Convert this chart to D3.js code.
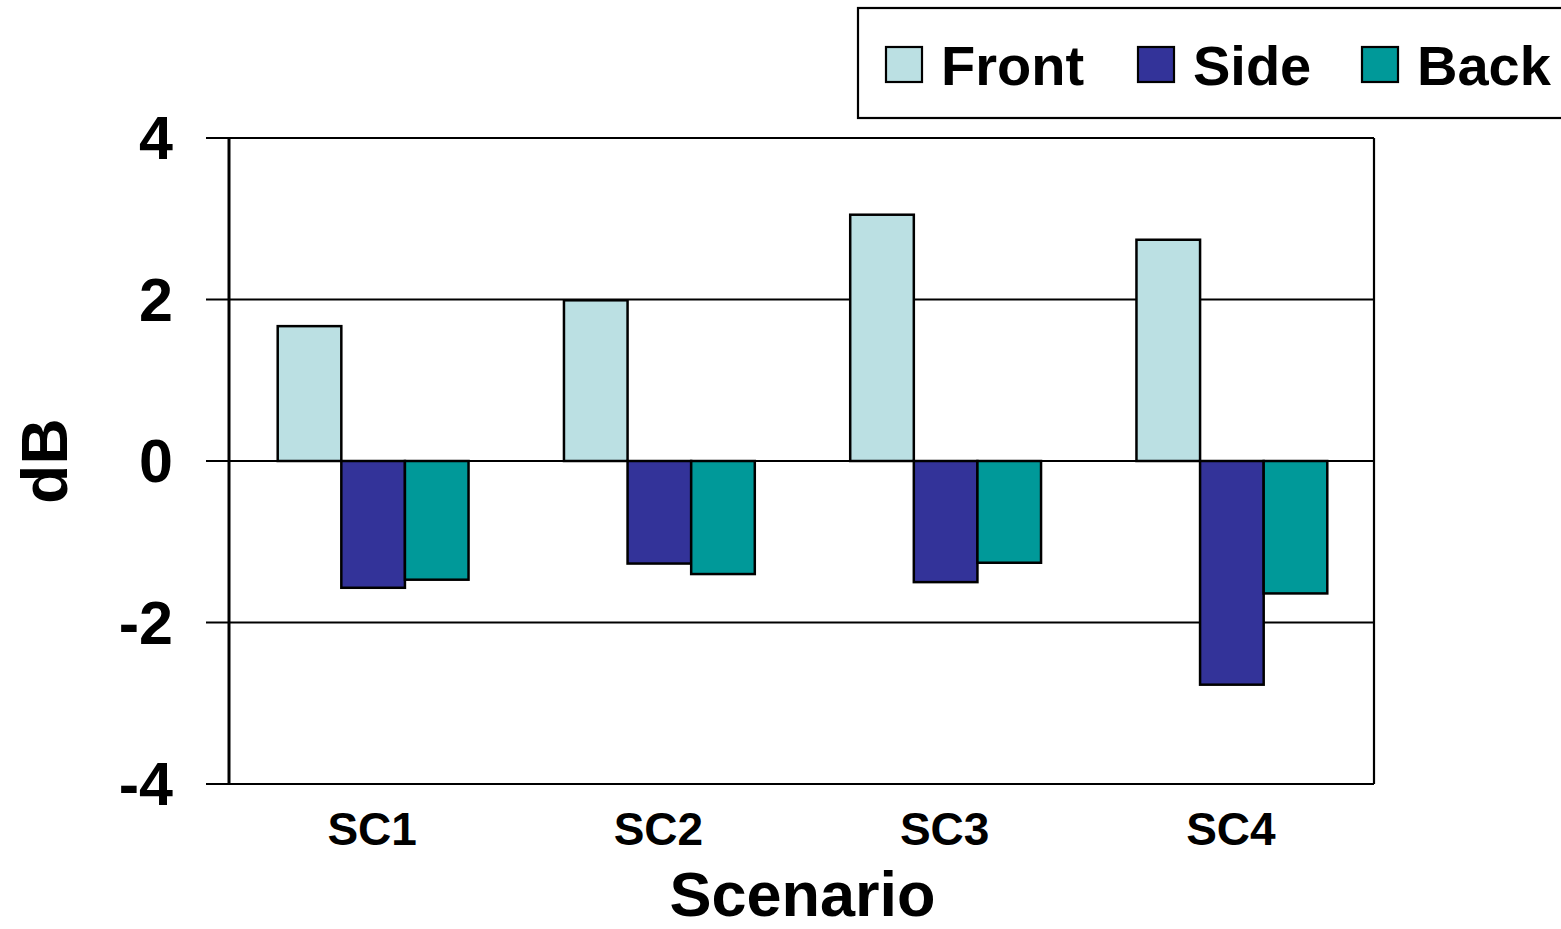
<!DOCTYPE html>
<html>
<head>
<meta charset="utf-8">
<script src="https://cdn.jsdelivr.net/npm/d3@7"></script>
<style>
  html, body { margin: 0; padding: 0; background: #fff; }
  svg { display: block; font-family: "Liberation Sans", Arial, sans-serif; font-weight: bold; }
</style>
</head>
<body>
<svg id="chart" width="1561" height="929"></svg>
<script>
// Level change per scenario, in dB
const scenarios = ["SC1", "SC2", "SC3", "SC4"];
const seriesNames = ["Front", "Side", "Back"];
const frontValues = [1.67, 1.99, 3.05, 2.74];
const sideValues = [-1.57, -1.27, -1.50, -2.77];
const backValues = [-1.47, -1.40, -1.26, -1.64];
const yTicks = [-4, -2, 0, 2, 4];
const colors = ["#BBE0E3", "#333399", "#009999"];

const seriesValues = [frontValues, sideValues, backValues];

const svg = d3.select("#chart");
const plot = { left: 229, right: 1374, top: 138, bottom: 784 };

const x = d3.scaleBand().domain(scenarios).range([plot.left, plot.right]).paddingInner(0).paddingOuter(0);
const barW = x.bandwidth() / 4.5;
const xs = d3.scaleBand().domain(seriesNames).range([0, barW * 3]);
const y = d3.scaleLinear().domain([-4, 4]).range([plot.bottom, plot.top]);

// Horizontal gridlines, extended left past the axis as tick marks
svg.append("g").selectAll("line").data(yTicks).join("line")
  .attr("x1", plot.left - 23).attr("x2", plot.right)
  .attr("y1", d => y(d)).attr("y2", d => y(d))
  .attr("stroke", "#000").attr("stroke-width", 2.2);

// Right border
svg.append("line")
  .attr("x1", plot.right).attr("x2", plot.right)
  .attr("y1", plot.top).attr("y2", plot.bottom)
  .attr("stroke", "#000").attr("stroke-width", 2.2);

// Bars
const groups = svg.append("g").selectAll("g").data(scenarios).join("g")
  .attr("transform", d => `translate(${x(d) + (x.bandwidth() - barW * 3) / 2 + 1},0)`);

groups.selectAll("rect")
  .data((d, i) => seriesNames.map((s, j) => ({ s, j, v: seriesValues[j][i] })))
  .join("rect")
  .attr("x", d => xs(d.s))
  .attr("width", xs.bandwidth())
  .attr("y", d => y(Math.max(0, d.v)))
  .attr("height", d => Math.abs(y(d.v) - y(0)))
  .attr("fill", d => colors[d.j])
  .attr("stroke", "#000").attr("stroke-width", 2.5);

// Zero line drawn over the bars
svg.append("line")
  .attr("x1", plot.left).attr("x2", plot.right)
  .attr("y1", y(0)).attr("y2", y(0))
  .attr("stroke", "#000").attr("stroke-width", 2.2);

// Left axis line
svg.append("line")
  .attr("x1", plot.left).attr("x2", plot.left)
  .attr("y1", plot.top).attr("y2", plot.bottom)
  .attr("stroke", "#000").attr("stroke-width", 3);

// Y tick labels
svg.append("g").selectAll("text").data(yTicks).join("text")
  .attr("x", 173).attr("y", d => y(d) + 21)
  .attr("text-anchor", "end")
  .attr("font-size", 61)
  .text(d => d);

// X category labels
svg.append("g").selectAll("text").data(scenarios).join("text")
  .attr("x", d => x(d) + x.bandwidth() / 2).attr("y", 845)
  .attr("text-anchor", "middle")
  .attr("font-size", 46)
  .text(d => d);

// Axis titles
svg.append("text")
  .attr("x", (plot.left + plot.right) / 2 + 1).attr("y", 916)
  .attr("text-anchor", "middle").attr("font-size", 63)
  .text("Scenario");

svg.append("text")
  .attr("transform", "translate(67,461) rotate(-90)")
  .attr("text-anchor", "middle").attr("font-size", 64)
  .text("dB");

// Legend
const legend = svg.append("g");
legend.append("rect")
  .attr("x", 858).attr("y", 8).attr("width", 720).attr("height", 110)
  .attr("fill", "#fff").attr("stroke", "#000").attr("stroke-width", 2.2);

const legendX = [886, 1138, 1362];
const items = legend.selectAll("g.item").data(seriesNames).join("g")
  .attr("class", "item")
  .attr("transform", (d, i) => `translate(${legendX[i]},0)`);
items.append("rect")
  .attr("x", 0).attr("y", 47).attr("width", 36).attr("height", 35)
  .attr("fill", (d, i) => colors[i]).attr("stroke", "#000").attr("stroke-width", 2.2);
items.append("text")
  .attr("x", 55).attr("y", 85)
  .attr("font-size", 56)
  .text(d => d);
</script>
</body>
</html>
